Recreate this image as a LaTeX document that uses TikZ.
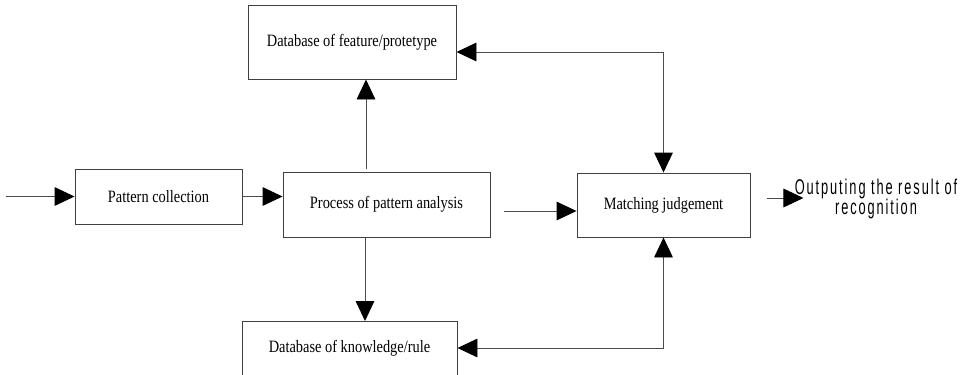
\documentclass[tikz,border=0pt]{standalone}
\usepackage{fontspec}
\usetikzlibrary{arrows.meta,calc}
\newfontfamily\boxfont{Liberation Serif}[FakeStretch=0.83]
\newfontfamily\outfont{Liberation Sans}[FakeStretch=0.6,LetterSpace=9]
\begin{document}
\begin{tikzpicture}[x=0.75pt,y=-0.75pt,
  box/.style={draw=black!75,line width=0.7pt,rectangle,inner sep=0pt,
    font=\boxfont\fontsize{13pt}{15pt}\selectfont},
  txt/.style={inner sep=0pt,font=\boxfont\fontsize{13pt}{15pt}\selectfont},
  link/.style={draw=black!70,line width=0.7pt},
  tip/.style={Triangle[length=15pt,width=14pt,color=black]},
  arr/.style={link,-{Triangle[length=15pt,width=14pt,color=black]}},
  biarr/.style={link,{Triangle[length=15pt,width=14pt,color=black]}-{Triangle[length=15pt,width=14pt,color=black]}}]
\useasboundingbox (0,0) rectangle (965,375);
\clip (0,0) rectangle (965,375);

% blocks
\node[box,minimum width=125.25pt,minimum height=41.25pt] (pc) at (158.5,196.5) {Pattern collection};
\node[box,minimum width=155.25pt,minimum height=48.75pt] (pa) at (386.5,204.5) {Process of pattern analysis};
\node[box,minimum width=156pt,minimum height=55.5pt] (df) at (352,42) {Database of feature/protetype};
\node[box,minimum width=129.75pt,minimum height=48pt] (mj) at (663.5,205) {Matching judgement};
\node[box,minimum width=161.25pt,minimum height=55.5pt,anchor=north] (dk) at (349.5,321) {};
\node[txt] (dkt) at (349.5,348) {Database of knowledge/rule};
\node[inner sep=0pt,align=center,font=\outfont\fontsize{16pt}{15pt}\selectfont] (out) at (876,199)
  {Outputing the result of\\recognition};

% helper points
\coordinate (in) at ($(pc.west)+(-69,0)$);
\coordinate (paup) at ($(pa.north)+(-20.5,-3)$);
\coordinate (padn) at ($(pa.south)+(-21.5,0)$);
\coordinate (pr) at ($(pa.east)+(14,6.5)$);
\coordinate (dfr) at ($(df.east)+(0,10)$);
\coordinate (dkr) at (dk.east |- dkt);
\coordinate (o1) at ($(mj.east)+(17,-7)$);
\coordinate (o2) at ($(o1)+(36,0)$);

% connectors
\draw[arr] (in) -- (pc.west);
\draw[arr] (pc.east) -- (pc.east -| pa.west);
\draw[arr] (paup) -- (paup |- df.south);
\draw[arr] (padn) -- (padn |- dk.north);
\draw[arr] (pr) -- (pr -| mj.west);
\draw[biarr] (dfr) -| (mj.north);
\draw[biarr] (dkr) -| (mj.south);
\draw[arr] (o1) -- (o2);
\end{tikzpicture}
\end{document}
